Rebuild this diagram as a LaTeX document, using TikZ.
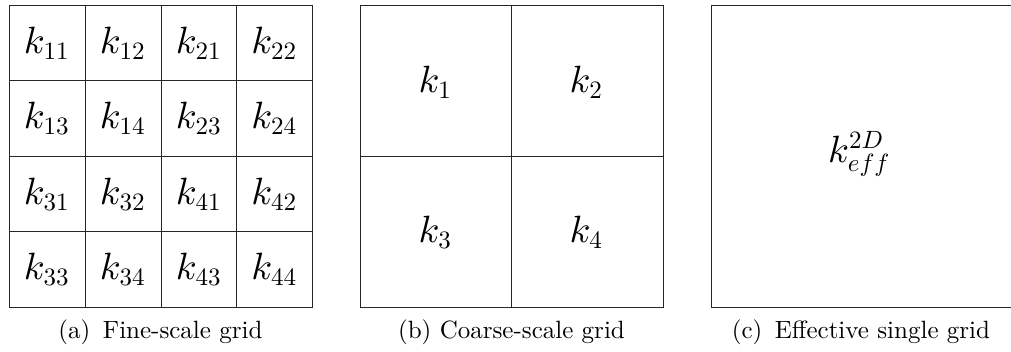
\RequirePackage{fix-cm}
\documentclass[tikz,border=0pt]{standalone}
\DeclareFontShape{OT1}{cmr}{m}{n}{<->cmr10}{}
\DeclareFontShape{OML}{cmm}{m}{it}{<->cmmi10}{}
\DeclareFontShape{TU}{lmr}{m}{n}{<-> "[lmroman10-regular]:+tlig;"}{}
\DeclareMathSizes{38}{38}{25}{18}
\begin{document}
\begin{tikzpicture}[x=1pt,y=-1pt,
  gridline/.style={draw=black!85,line width=0.9pt},
  klabel/.style={inner sep=0pt,font=\fontsize{38}{46}\selectfont},
  caplabel/.style={inner sep=0pt,font=\fontsize{25}{30}\selectfont}]
\useasboundingbox (0,0) rectangle (1011,352);
\clip (0,0) rectangle (1011,352);
% (a) fine grid
\draw[gridline] (9,5) rectangle (312,307);
\foreach \x in {85,161,236} \draw[gridline] (\x,5) -- (\x,307);
\foreach \y in {80.5,156,231.5} \draw[gridline] (9,\y) -- (312,\y);
\node[klabel] (a11) at (46.5,43) {$k_{11}$};
\node[klabel] (a12) at (122.5,43) {$k_{12}$};
\node[klabel] (a21) at (198.5,43) {$k_{21}$};
\node[klabel] (a22) at (274,43) {$k_{22}$};
\node[klabel] (a13) at (46.5,118.5) {$k_{13}$};
\node[klabel] (a14) at (122.5,118.5) {$k_{14}$};
\node[klabel] (a23) at (198.5,118.5) {$k_{23}$};
\node[klabel] (a24) at (274,118.5) {$k_{24}$};
\node[klabel] (a31) at (46.5,194) {$k_{31}$};
\node[klabel] (a32) at (122.5,194) {$k_{32}$};
\node[klabel] (a41) at (198.5,194) {$k_{41}$};
\node[klabel] (a42) at (274,194) {$k_{42}$};
\node[klabel] (a33) at (46.5,269.5) {$k_{33}$};
\node[klabel] (a34) at (122.5,269.5) {$k_{34}$};
\node[klabel] (a43) at (198.5,269.5) {$k_{43}$};
\node[klabel] (a44) at (274,269.5) {$k_{44}$};
\node[caplabel] (capa) at (160.5,332) {(a)\enspace Fine-scale grid};
% (b) coarse grid
\draw[gridline] (360,5) rectangle (663,307);
\draw[gridline] (511.5,5) -- (511.5,307);
\draw[gridline] (360,156) -- (663,156);
\node[klabel] (b1) at (435,82) {$k_1$};
\node[klabel] (b2) at (586,82) {$k_2$};
\node[klabel] (b3) at (435,232) {$k_3$};
\node[klabel] (b4) at (586,232) {$k_4$};
\node[caplabel] (capb) at (511.5,332) {(b) Coarse-scale grid};
% (c) single grid
\draw[gridline] (711,5) rectangle (1014,307);
\node[klabel] (c1) at (859,154) {$k_{eff}^{2D}$};
\node[caplabel] (capc) at (861,332) {(c)\enspace Effective single grid};
\end{tikzpicture}
\end{document}
